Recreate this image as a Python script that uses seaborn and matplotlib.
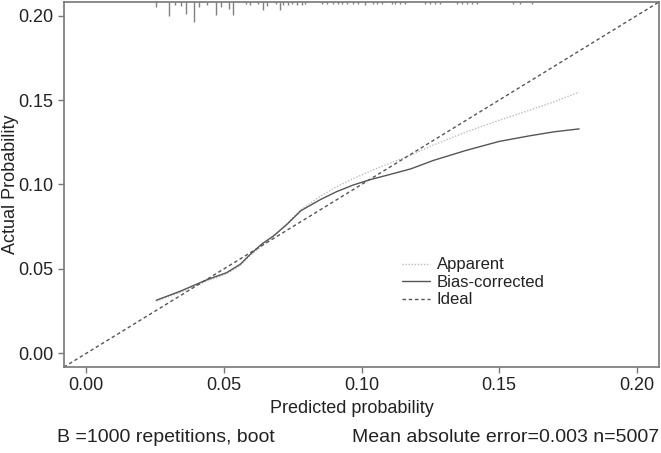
import pandas as pd
import matplotlib
matplotlib.use("Agg")
import matplotlib.pyplot as plt
import matplotlib.transforms as mtransforms
import seaborn as sns

# calibration curves
pred_x = [0.0255, 0.034, 0.044, 0.051, 0.056, 0.0595, 0.064, 0.068, 0.073, 0.078,
          0.085, 0.091, 0.097, 0.103, 0.110, 0.118, 0.126, 0.138, 0.150, 0.161,
          0.170, 0.179]
apparent = [0.031, 0.036, 0.043, 0.047, 0.052, 0.058, 0.064, 0.069, 0.077, 0.085,
            0.093, 0.0987, 0.1035, 0.1077, 0.1125, 0.1174, 0.1233, 0.1311, 0.138, 0.144,
            0.149, 0.1547]
bias_corrected = [0.0315, 0.0367, 0.0437, 0.0478, 0.0528, 0.0585, 0.065, 0.0695, 0.0765, 0.0845,
                  0.091, 0.0958, 0.0997, 0.1028, 0.1058, 0.1093, 0.1142, 0.1202, 0.1255, 0.1288,
                  0.1312, 0.1329]
ideal_x = [-0.01, 0.21]

# distribution of predicted probabilities (rug at top)
rug_x = [0.0254, 0.0301, 0.0323, 0.0345, 0.0363, 0.0392, 0.0410, 0.0439, 0.0472, 0.0490,
         0.0519, 0.0534, 0.0581, 0.0595, 0.0624, 0.0642, 0.0657, 0.0690, 0.0704, 0.0715,
         0.0733, 0.0748, 0.0766, 0.0784, 0.0795, 0.0857, 0.0875, 0.0897, 0.0915, 0.0929,
         0.0947, 0.0969, 0.0987, 0.1013, 0.1042, 0.1056, 0.1074, 0.1111, 0.1122, 0.1140,
         0.1158, 0.1230, 0.1249, 0.1267, 0.1285, 0.1347, 0.1365, 0.1383, 0.1401, 0.1419,
         0.1550, 0.1575, 0.1619]
rug_freq = [5, 14, 3, 4, 12, 20, 5, 3, 13, 5,
            7, 13, 2, 3, 2, 8, 4, 2, 8, 3,
            3, 2, 3, 3, 2, 2, 2, 2, 2, 2,
            2, 2, 2, 3, 2, 2, 2, 2, 2, 2,
            2, 2, 2, 2, 2, 2, 2, 2, 2, 2,
            2, 2, 2]

ticks = [0.00, 0.05, 0.10, 0.15, 0.20]
tick_labels = ["0.00", "0.05", "0.10", "0.15", "0.20"]
series_names = ["Apparent", "Bias-corrected", "Ideal"]

df = pd.concat([
    pd.DataFrame({"x": pred_x, "y": apparent, "curve": "Apparent"}),
    pd.DataFrame({"x": pred_x, "y": bias_corrected, "curve": "Bias-corrected"}),
    pd.DataFrame({"x": ideal_x, "y": ideal_x, "curve": "Ideal"}),
], ignore_index=True)

sns.set_theme(style="white")
plt.rcParams['font.family'] = ['Liberation Sans', 'DejaVu Sans']

fig = plt.figure(figsize=(6.61, 4.53), dpi=100)
ax = fig.add_axes([64 / 661, 86 / 453, 595 / 661, 365 / 453])

palette = {"Apparent": "#bdbdbd", "Bias-corrected": "#555555", "Ideal": "#555555"}
dashes = {"Apparent": (1, 1.2), "Bias-corrected": "", "Ideal": (2.5, 2)}
sns.lineplot(data=df, x="x", y="y", hue="curve", style="curve", hue_order=series_names,
             style_order=series_names, palette=palette, dashes=dashes, linewidth=1.0,
             ax=ax, sort=False, estimator=None)

# rug of predictions hanging from the top of the box
trans = mtransforms.blended_transform_factory(ax.transData, ax.transAxes)
ax.vlines(rug_x, [1 - f / 365 for f in rug_freq], 1, transform=trans,
          colors="#808080", linewidth=1.0)

ax.set_xlim(-0.008, 0.208)
ax.set_ylim(-0.008, 0.208)
ax.set_xticks(ticks)
ax.set_xticklabels(tick_labels)
ax.set_yticks(ticks)
ax.set_yticklabels(tick_labels)
ax.tick_params(axis="both", direction="out", length=4.5, width=1.0, color="#777777",
               labelsize=13, labelcolor="#222222", pad=3, bottom=True, left=True)

for side in ax.spines.values():
    side.set_color("#777777")
    side.set_linewidth(1.2)

ax.set_xlabel("Predicted probability", fontsize=13, color="#222222")
ax.set_ylabel("Actual Probability", fontsize=13, color="#222222")
ax.xaxis.set_label_coords(0.484, -0.09)
ax.yaxis.set_label_coords(-0.075, 0.5)

handles, labels = ax.get_legend_handles_labels()
ax.legend(handles, labels, loc="upper left", bbox_to_anchor=(0.568, 0.30),
          frameon=False, fontsize=12, handlelength=1.7, handletextpad=0.4,
          labelspacing=0.15, borderpad=0, borderaxespad=0, labelcolor="#222222")

fig.text(57 / 661, 1 - 437 / 453, "B =1000 repetitions, boot", fontsize=14,
         ha="left", va="center", color="#222222")
fig.text(659 / 661, 1 - 437 / 453, "Mean absolute error=0.003 n=5007", fontsize=14,
         ha="right", va="center", color="#222222")

fig.savefig("out.png", dpi=100)
plt.close(fig)
